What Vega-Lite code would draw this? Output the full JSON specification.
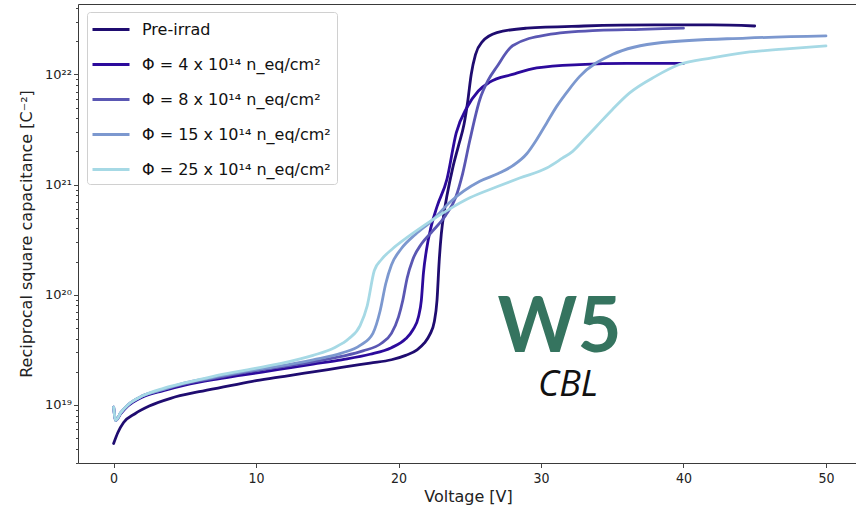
{
  "$schema": "https://vega.github.io/schema/vega-lite/v6.json",
  "width": 780,
  "height": 459,
  "autosize": {"type": "none"},
  "padding": {"left": 78, "top": 4, "right": 0, "bottom": 45},
  "background": "white",
  "config": {
    "view": {"stroke": "#3a3a3a", "strokeWidth": 1},
    "font": "DejaVu Sans",
    "axis": {"domain": false, "grid": false, "tickColor": "#444", "labelColor": "#222", "titleColor": "#222", "titleFontWeight": "normal"}
  },
  "datasets": {
    "cv": [
      {"s": "Pre-irrad", "v": 0, "c": 4.47e18},
      {"s": "Pre-irrad", "v": 0.3, "c": 5.62e18},
      {"s": "Pre-irrad", "v": 0.7, "c": 6.92e18},
      {"s": "Pre-irrad", "v": 1.5, "c": 8.32e18},
      {"s": "Pre-irrad", "v": 2.5, "c": 9.77e18},
      {"s": "Pre-irrad", "v": 4, "c": 1.148e19},
      {"s": "Pre-irrad", "v": 6, "c": 1.318e19},
      {"s": "Pre-irrad", "v": 8, "c": 1.479e19},
      {"s": "Pre-irrad", "v": 10, "c": 1.66e19},
      {"s": "Pre-irrad", "v": 12, "c": 1.82e19},
      {"s": "Pre-irrad", "v": 14, "c": 1.995e19},
      {"s": "Pre-irrad", "v": 16, "c": 2.188e19},
      {"s": "Pre-irrad", "v": 18, "c": 2.399e19},
      {"s": "Pre-irrad", "v": 19.5, "c": 2.57e19},
      {"s": "Pre-irrad", "v": 20.5, "c": 2.818e19},
      {"s": "Pre-irrad", "v": 21.3, "c": 3.162e19},
      {"s": "Pre-irrad", "v": 21.8, "c": 3.631e19},
      {"s": "Pre-irrad", "v": 22.2, "c": 4.365e19},
      {"s": "Pre-irrad", "v": 22.5, "c": 5.623e19},
      {"s": "Pre-irrad", "v": 22.7, "c": 8.913e19},
      {"s": "Pre-irrad", "v": 22.85, "c": 1.995e20},
      {"s": "Pre-irrad", "v": 23.0, "c": 3.548e20},
      {"s": "Pre-irrad", "v": 23.2, "c": 5.623e20},
      {"s": "Pre-irrad", "v": 23.4, "c": 7.943e20},
      {"s": "Pre-irrad", "v": 23.8, "c": 1.413e21},
      {"s": "Pre-irrad", "v": 24.2, "c": 2.239e21},
      {"s": "Pre-irrad", "v": 24.6, "c": 3.548e21},
      {"s": "Pre-irrad", "v": 24.85, "c": 5.623e21},
      {"s": "Pre-irrad", "v": 25.1, "c": 1.0e22},
      {"s": "Pre-irrad", "v": 25.4, "c": 1.514e22},
      {"s": "Pre-irrad", "v": 25.9, "c": 1.995e22},
      {"s": "Pre-irrad", "v": 26.9, "c": 2.399e22},
      {"s": "Pre-irrad", "v": 29, "c": 2.63e22},
      {"s": "Pre-irrad", "v": 33, "c": 2.754e22},
      {"s": "Pre-irrad", "v": 38, "c": 2.818e22},
      {"s": "Pre-irrad", "v": 42, "c": 2.818e22},
      {"s": "Pre-irrad", "v": 45, "c": 2.754e22},

      {"s": "f4", "v": 0, "c": 9.55e18},
      {"s": "f4", "v": 0.15, "c": 7.244e18},
      {"s": "f4", "v": 0.5, "c": 8.318e18},
      {"s": "f4", "v": 1, "c": 9.772e18},
      {"s": "f4", "v": 2, "c": 1.175e19},
      {"s": "f4", "v": 3.5, "c": 1.349e19},
      {"s": "f4", "v": 5, "c": 1.514e19},
      {"s": "f4", "v": 7, "c": 1.698e19},
      {"s": "f4", "v": 9, "c": 1.862e19},
      {"s": "f4", "v": 11.5, "c": 2.089e19},
      {"s": "f4", "v": 14, "c": 2.344e19},
      {"s": "f4", "v": 16, "c": 2.57e19},
      {"s": "f4", "v": 18, "c": 2.884e19},
      {"s": "f4", "v": 19.5, "c": 3.311e19},
      {"s": "f4", "v": 20.5, "c": 3.981e19},
      {"s": "f4", "v": 21, "c": 4.786e19},
      {"s": "f4", "v": 21.4, "c": 6.31e19},
      {"s": "f4", "v": 21.6, "c": 8.913e19},
      {"s": "f4", "v": 21.75, "c": 1.585e20},
      {"s": "f4", "v": 21.95, "c": 2.512e20},
      {"s": "f4", "v": 22.25, "c": 3.981e20},
      {"s": "f4", "v": 22.7, "c": 6.31e20},
      {"s": "f4", "v": 23.4, "c": 1.122e21},
      {"s": "f4", "v": 24.05, "c": 2.951e21},
      {"s": "f4", "v": 24.8, "c": 5.012e21},
      {"s": "f4", "v": 25.6, "c": 7.079e21},
      {"s": "f4", "v": 26.4, "c": 8.511e21},
      {"s": "f4", "v": 28, "c": 1.0e22},
      {"s": "f4", "v": 29.7, "c": 1.148e22},
      {"s": "f4", "v": 32.7, "c": 1.23e22},
      {"s": "f4", "v": 36, "c": 1.259e22},
      {"s": "f4", "v": 40, "c": 1.259e22},

      {"s": "f8", "v": 0, "c": 9.55e18},
      {"s": "f8", "v": 0.15, "c": 7.244e18},
      {"s": "f8", "v": 0.5, "c": 8.511e18},
      {"s": "f8", "v": 1, "c": 1.0e19},
      {"s": "f8", "v": 2, "c": 1.202e19},
      {"s": "f8", "v": 3.5, "c": 1.38e19},
      {"s": "f8", "v": 5, "c": 1.549e19},
      {"s": "f8", "v": 7, "c": 1.738e19},
      {"s": "f8", "v": 9, "c": 1.95e19},
      {"s": "f8", "v": 11.5, "c": 2.188e19},
      {"s": "f8", "v": 14, "c": 2.455e19},
      {"s": "f8", "v": 16, "c": 2.754e19},
      {"s": "f8", "v": 17.5, "c": 3.09e19},
      {"s": "f8", "v": 18.8, "c": 3.631e19},
      {"s": "f8", "v": 19.5, "c": 4.467e19},
      {"s": "f8", "v": 20.0, "c": 6.31e19},
      {"s": "f8", "v": 20.3, "c": 8.913e19},
      {"s": "f8", "v": 20.6, "c": 1.413e20},
      {"s": "f8", "v": 21.0, "c": 2.089e20},
      {"s": "f8", "v": 21.6, "c": 2.884e20},
      {"s": "f8", "v": 22.4, "c": 3.802e20},
      {"s": "f8", "v": 23.3, "c": 5.248e20},
      {"s": "f8", "v": 24.0, "c": 7.586e20},
      {"s": "f8", "v": 24.5, "c": 1.259e21},
      {"s": "f8", "v": 25.0, "c": 2.512e21},
      {"s": "f8", "v": 25.7, "c": 5.888e21},
      {"s": "f8", "v": 26.3, "c": 8.913e21},
      {"s": "f8", "v": 26.9, "c": 1.175e22},
      {"s": "f8", "v": 28, "c": 1.82e22},
      {"s": "f8", "v": 30.4, "c": 2.291e22},
      {"s": "f8", "v": 34, "c": 2.512e22},
      {"s": "f8", "v": 37, "c": 2.57e22},
      {"s": "f8", "v": 40, "c": 2.63e22},

      {"s": "f15", "v": 0, "c": 9.55e18},
      {"s": "f15", "v": 0.15, "c": 7.244e18},
      {"s": "f15", "v": 0.5, "c": 8.511e18},
      {"s": "f15", "v": 1, "c": 1.0e19},
      {"s": "f15", "v": 2, "c": 1.202e19},
      {"s": "f15", "v": 3.5, "c": 1.38e19},
      {"s": "f15", "v": 5, "c": 1.585e19},
      {"s": "f15", "v": 7, "c": 1.778e19},
      {"s": "f15", "v": 9, "c": 1.995e19},
      {"s": "f15", "v": 11.5, "c": 2.239e19},
      {"s": "f15", "v": 14, "c": 2.57e19},
      {"s": "f15", "v": 16, "c": 2.951e19},
      {"s": "f15", "v": 17.3, "c": 3.467e19},
      {"s": "f15", "v": 18.2, "c": 4.467e19},
      {"s": "f15", "v": 18.7, "c": 7.079e19},
      {"s": "f15", "v": 19.1, "c": 1.259e20},
      {"s": "f15", "v": 19.5, "c": 1.862e20},
      {"s": "f15", "v": 20.2, "c": 2.63e20},
      {"s": "f15", "v": 21.2, "c": 3.548e20},
      {"s": "f15", "v": 22.4, "c": 4.786e20},
      {"s": "f15", "v": 23.6, "c": 6.918e20},
      {"s": "f15", "v": 25.7, "c": 1.072e21},
      {"s": "f15", "v": 27, "c": 1.259e21},
      {"s": "f15", "v": 28, "c": 1.479e21},
      {"s": "f15", "v": 29, "c": 1.905e21},
      {"s": "f15", "v": 29.7, "c": 2.57e21},
      {"s": "f15", "v": 30.4, "c": 3.631e21},
      {"s": "f15", "v": 31.1, "c": 5.129e21},
      {"s": "f15", "v": 32, "c": 7.413e21},
      {"s": "f15", "v": 32.7, "c": 9.55e21},
      {"s": "f15", "v": 35, "c": 1.514e22},
      {"s": "f15", "v": 38.5, "c": 1.95e22},
      {"s": "f15", "v": 44.4, "c": 2.138e22},
      {"s": "f15", "v": 50, "c": 2.239e22},

      {"s": "f25", "v": 0, "c": 9.55e18},
      {"s": "f25", "v": 0.15, "c": 7.244e18},
      {"s": "f25", "v": 0.5, "c": 8.511e18},
      {"s": "f25", "v": 1, "c": 1.0e19},
      {"s": "f25", "v": 2, "c": 1.202e19},
      {"s": "f25", "v": 3.5, "c": 1.413e19},
      {"s": "f25", "v": 5, "c": 1.585e19},
      {"s": "f25", "v": 7, "c": 1.82e19},
      {"s": "f25", "v": 9, "c": 2.042e19},
      {"s": "f25", "v": 11.5, "c": 2.344e19},
      {"s": "f25", "v": 14, "c": 2.818e19},
      {"s": "f25", "v": 15.5, "c": 3.311e19},
      {"s": "f25", "v": 16.5, "c": 3.981e19},
      {"s": "f25", "v": 17.3, "c": 5.248e19},
      {"s": "f25", "v": 17.8, "c": 7.943e19},
      {"s": "f25", "v": 18.3, "c": 1.66e20},
      {"s": "f25", "v": 18.8, "c": 2.089e20},
      {"s": "f25", "v": 19.6, "c": 2.63e20},
      {"s": "f25", "v": 20.6, "c": 3.311e20},
      {"s": "f25", "v": 21.8, "c": 4.266e20},
      {"s": "f25", "v": 23.6, "c": 6.026e20},
      {"s": "f25", "v": 25, "c": 7.586e20},
      {"s": "f25", "v": 26.9, "c": 9.55e20},
      {"s": "f25", "v": 28.5, "c": 1.148e21},
      {"s": "f25", "v": 30.4, "c": 1.413e21},
      {"s": "f25", "v": 31.5, "c": 1.738e21},
      {"s": "f25", "v": 32.2, "c": 1.995e21},
      {"s": "f25", "v": 33.1, "c": 2.63e21},
      {"s": "f25", "v": 33.9, "c": 3.388e21},
      {"s": "f25", "v": 35, "c": 4.786e21},
      {"s": "f25", "v": 36.2, "c": 6.761e21},
      {"s": "f25", "v": 38, "c": 9.55e21},
      {"s": "f25", "v": 39.7, "c": 1.23e22},
      {"s": "f25", "v": 42, "c": 1.413e22},
      {"s": "f25", "v": 44.4, "c": 1.585e22},
      {"s": "f25", "v": 47, "c": 1.698e22},
      {"s": "f25", "v": 50, "c": 1.82e22}
    ],
    "logo": [
      {"t": "W5", "v": 31.3, "c": 3.03e19, "kind": "mark"},
      {"t": "CBL", "v": 31.9, "c": 1.2e19, "kind": "sub"}
    ]
  },
  "layer": [
    {
      "data": {"name": "cv"},
      "mark": {"type": "line", "strokeWidth": 2.8, "strokeCap": "round", "strokeJoin": "round", "interpolate": "monotone"},
      "encoding": {
        "x": {
          "field": "v", "type": "quantitative",
          "scale": {"domain": [-2.5, 52.25], "nice": false, "zero": false},
          "axis": {"values": [0, 10, 20, 30, 40, 50], "title": "Voltage [V]", "titleFontSize": 16, "titlePadding": 3, "labelFont": "DejaVu Sans Condensed", "labelFontSize": 14, "tickSize": 4.5, "labelPadding": 4}
        },
        "y": {
          "field": "c", "type": "quantitative",
          "scale": {"type": "log", "domain": [2.97e18, 4.36e22], "nice": false},
          "axis": {
            "orient": "left",
            "values": [1e19, 1e20, 1e21, 1e22],
            "labelExpr": "datum.value < 5e19 ? '10¹⁹' : datum.value < 5e20 ? '10²⁰' : datum.value < 5e21 ? '10²¹' : '10²²'",
            "labelFont": "DejaVu Sans", "labelFontSize": 13, "tickSize": 4.5, "labelPadding": 2,
            "title": "Reciprocal square capacitance [C⁻²]", "titleFontSize": 16, "titlePadding": 10
          }
        },
        "color": {
          "field": "s", "type": "nominal",
          "scale": {
            "domain": ["Pre-irrad", "f4", "f8", "f15", "f25"],
            "range": ["#1f0c70", "#2c0a9c", "#5a57b3", "#7c98cf", "#a6d9e5"]
          },
          "legend": {
            "title": null,
            "orient": "none", "legendX": 9, "legendY": 8,
            "labelExpr": "datum.value == 'Pre-irrad' ? 'Pre-irrad' : datum.value == 'f4' ? 'Φ = 4 x 10¹⁴ n_eq/cm²' : datum.value == 'f8' ? 'Φ = 8 x 10¹⁴ n_eq/cm²' : datum.value == 'f15' ? 'Φ = 15 x 10¹⁴ n_eq/cm²' : 'Φ = 25 x 10¹⁴ n_eq/cm²'",
            "symbolType": "M-1.85,0H1.85", "symbolStrokeWidth": 3, "symbolSize": 400, "symbolOffset": 6.5,
            "labelFont": "DejaVu Sans", "labelFontSize": 16, "labelColor": "#111", "labelOffset": 19.5, "labelLimit": 400,
            "rowPadding": 15, "padding": 6,
            "strokeColor": "#d0d0d0", "fillColor": "white", "cornerRadius": 3
          }
        }
      }
    },
    {
      "data": {"name": "logo"},
      "transform": [{"filter": "datum.kind == 'mark'"}],
      "mark": {"type": "text", "font": "Lato", "fontWeight": "bold", "fontSize": 76, "color": "#35745f", "align": "center", "baseline": "alphabetic"},
      "encoding": {
        "x": {"field": "v", "type": "quantitative"},
        "y": {
          "field": "c", "type": "quantitative",
          "axis": {
            "orient": "left",
            "values": [3e18, 4e18, 5e18, 6e18, 7e18, 8e18, 9e18, 2e19, 3e19, 4e19, 5e19, 6e19, 7e19, 8e19, 9e19, 2e20, 3e20, 4e20, 5e20, 6e20, 7e20, 8e20, 9e20, 2e21, 3e21, 4e21, 5e21, 6e21, 7e21, 8e21, 9e21, 2e22, 3e22, 4e22],
            "labels": false, "tickSize": 2.5, "title": null
          }
        },
        "text": {"field": "t"}
      }
    },
    {
      "data": {"name": "logo"},
      "transform": [{"filter": "datum.kind == 'sub'"}],
      "mark": {"type": "text", "font": "Open Sans", "fontStyle": "italic", "fontSize": 36, "color": "#111", "align": "center", "baseline": "alphabetic"},
      "encoding": {
        "x": {"field": "v", "type": "quantitative"},
        "y": {"field": "c", "type": "quantitative", "axis": null},
        "text": {"field": "t"}
      }
    }
  ],
  "resolve": {"axis": {"y": "independent"}}
}
